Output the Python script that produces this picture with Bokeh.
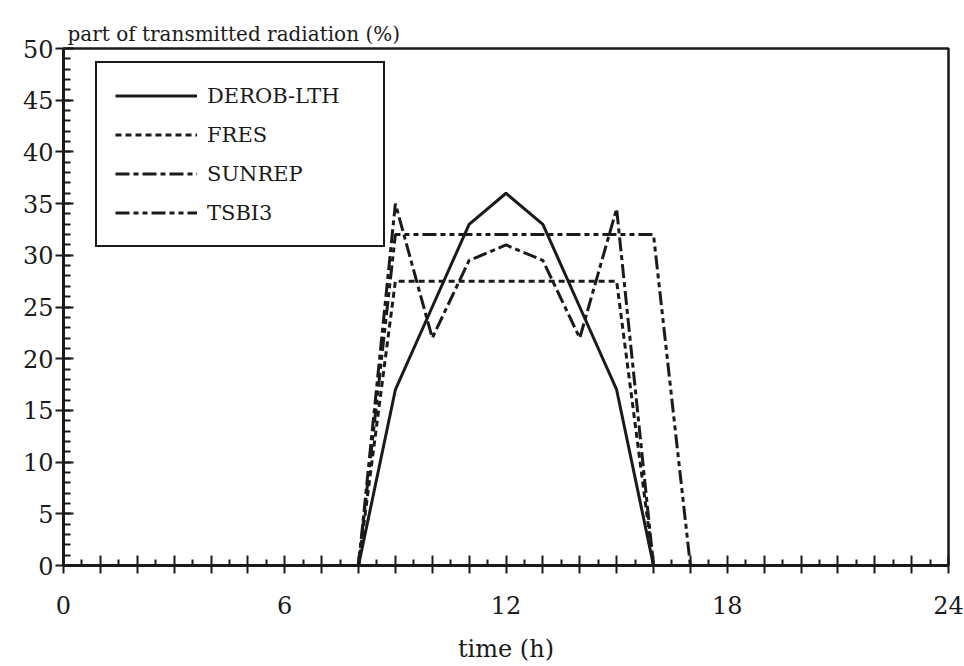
from bokeh.plotting import figure
from bokeh.models import (Range1d, FixedTicker, SingleIntervalTicker, Legend, LegendItem, Title)
from bokeh.embed import file_html
from bokeh.resources import INLINE

# ---- data ----
derob_hours = [8, 9, 10, 11, 12, 13, 14, 15, 16]
derob_vals = [0, 17, 25, 33, 36, 33, 25, 17, 0]

fres_hours = [8, 9, 15, 16]
fres_vals = [0, 27.5, 27.5, 0]

sunrep_hours = [8, 9, 10, 11, 12, 13, 14, 15, 16]
sunrep_vals = [0, 35, 22, 29.5, 31, 29.5, 22, 34.5, 0]

tsbi3_hours = [8, 9, 16, 17]
tsbi3_vals = [0, 32, 32, 0]

x_major = list(range(0, 25))
x_minor = [h + 0.5 for h in range(0, 24)]
x_labels = {0: "0", 6: "6", 12: "12", 18: "18", 24: "24"}

FONT = "DejaVu Serif"
INK = "#1a1a1a"

p = figure(width=964, height=666, output_backend="svg", toolbar_location=None,
           x_range=Range1d(0, 24), y_range=Range1d(0, 50),
           min_border_left=63, min_border_right=16, min_border_top=48, min_border_bottom=101)

p.background_fill_color = "white"
p.border_fill_color = "white"
p.outline_line_color = INK
p.outline_line_alpha = 1.0
p.outline_line_width = 2.5
p.xgrid.visible = False
p.ygrid.visible = False

# x axis
xa = p.xaxis[0]
xa.ticker = FixedTicker(ticks=x_major, minor_ticks=x_minor)
xa.major_label_overrides = {h: x_labels.get(h, "") for h in x_major}
xa.axis_line_width = 3
xa.axis_line_color = INK
xa.major_tick_in = 10
xa.major_tick_out = 8
xa.major_tick_line_width = 2
xa.major_tick_line_color = INK
xa.minor_tick_in = 6
xa.minor_tick_out = 0
xa.minor_tick_line_width = 2
xa.minor_tick_line_color = INK
xa.major_label_text_font = FONT
xa.major_label_text_font_size = "24px"
xa.major_label_text_color = INK
xa.major_label_standoff = 22
xa.axis_label = "time (h)"
xa.axis_label_text_font = FONT
xa.axis_label_text_font_style = "normal"
xa.axis_label_text_font_size = "24px"
xa.axis_label_text_color = INK
xa.axis_label_standoff = 18

# y axis
ya = p.yaxis[0]
ya.ticker = SingleIntervalTicker(interval=5, num_minor_ticks=5)
ya.axis_line_width = 3
ya.axis_line_color = INK
ya.major_tick_in = 10
ya.major_tick_out = 8
ya.major_tick_line_width = 2
ya.major_tick_line_color = INK
ya.minor_tick_in = 7
ya.minor_tick_out = 0
ya.minor_tick_line_width = 2
ya.minor_tick_line_color = INK
ya.major_label_text_font = FONT
ya.major_label_text_font_size = "24px"
ya.major_label_text_color = INK
ya.major_label_standoff = 2

p.add_layout(Title(text="part of transmitted radiation (%)", text_font=FONT,
                   text_font_size="20px", text_font_style="normal",
                   text_color=INK, align="left", offset=4, standoff=6), "above")

r1 = p.line(derob_hours, derob_vals, line_color=INK, line_width=3)
r2 = p.line(fres_hours, fres_vals, line_color=INK, line_width=3, line_dash="6 4")
r3 = p.line(sunrep_hours, sunrep_vals, line_color=INK, line_width=3, line_dash="14 4 5 4")
r4 = p.line(tsbi3_hours, tsbi3_vals, line_color=INK, line_width=3, line_dash="14 4 5 4 5 4")

legend = Legend(items=[
    LegendItem(label="DEROB-LTH", renderers=[r1]),
    LegendItem(label="FRES", renderers=[r2]),
    LegendItem(label="SUNREP", renderers=[r3]),
    LegendItem(label="TSBI3", renderers=[r4]),
], location=(32, 318))
legend.label_text_font = FONT
legend.label_text_font_size = "21px"
legend.label_text_color = INK
legend.glyph_width = 82
legend.glyph_height = 29
legend.label_height = 29
legend.label_width = 158
legend.label_standoff = 10
legend.spacing = 10
legend.padding = 18
legend.margin = 0
legend.border_line_color = INK
legend.border_line_alpha = 1.0
legend.border_line_width = 2
legend.background_fill_color = "white"
legend.background_fill_alpha = 1.0
p.add_layout(legend, "center")

open("out.html", "w").write(file_html(p, INLINE))
